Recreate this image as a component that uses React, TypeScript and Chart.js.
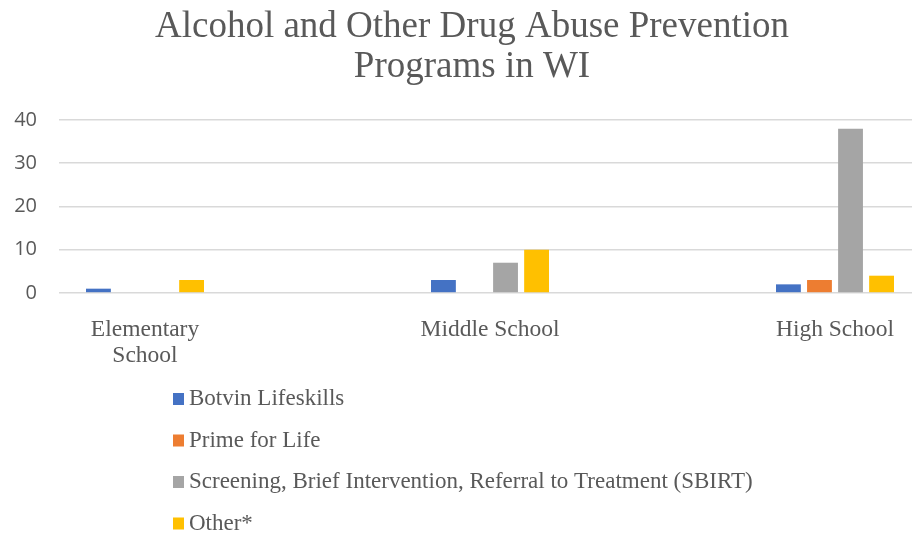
import React, { useEffect, useRef } from 'react';
import { Chart, registerables } from 'chart.js';

Chart.register(...registerables);

const titleLines = ['Alcohol and Other Drug Abuse Prevention', 'Programs in WI'];
const categories: (string | string[])[] = [['Elementary', 'School'], 'Middle School', 'High School'];
const seriesNames = [
  'Botvin Lifeskills',
  'Prime for Life',
  'Screening, Brief Intervention, Referral to Treatment (SBIRT)',
  'Other*',
];
const botvin = [1, 3, 2];
const primeForLife = [0, 0, 3];
const sbirt = [0, 7, 38];
const other = [3, 10, 4];
const yTicks = [0, 10, 20, 30, 40];
const seriesColors = ['#4472C4', '#ED7D31', '#A5A5A5', '#FFC000'];

const TEXT = '#595959';
const SERIF = '"Liberation Serif", "Times New Roman", serif';

const titleAndLegend = {
  id: 'titleAndLegend',
  afterDraw(chart: any) {
    const ctx = chart.ctx;
    ctx.save();
    ctx.fillStyle = TEXT;
    ctx.textBaseline = 'middle';
    ctx.textAlign = 'center';
    ctx.font = `37px ${SERIF}`;
    titleLines.forEach((line, i) => ctx.fillText(line, 472, 27 + i * 40));

    ctx.font = `23px ${SERIF}`;
    ctx.textAlign = 'left';
    chart.data.datasets.forEach((ds: any, i: number) => {
      const cy = 399 + i * 41.5;
      ctx.fillStyle = ds.backgroundColor;
      ctx.fillRect(173, cy - 6, 11, 12);
      ctx.fillStyle = TEXT;
      ctx.fillText(ds.label, 189, cy);
    });
    ctx.restore();
  },
};

export default function App() {
  const ref = useRef<HTMLCanvasElement | null>(null);

  useEffect(() => {
    if (!ref.current) return;
    const seriesValues = [botvin, primeForLife, sbirt, other];
    const chart = new Chart(ref.current, {
      type: 'bar',
      data: {
        datasets: seriesValues.map((vals, s) => ({
          label: seriesNames[s],
          data: vals.map((v, i) => ({ x: i, y: v })),
          backgroundColor: seriesColors[s],
          borderWidth: 0,
          categoryPercentage: 0.36,
          barPercentage: 0.8,
        })),
      },
      options: {
        animation: false,
        responsive: false,
        devicePixelRatio: 1,
        layout: { padding: { left: 0, right: 0, top: 120, bottom: 0 } },
        plugins: {
          legend: { display: false },
          tooltip: { enabled: false },
          title: { display: false },
        },
        scales: {
          x: {
            type: 'linear',
            offset: false,
            min: -0.2493,
            max: 2.2232,
            grid: { display: false, offset: false },
            border: { display: false },
            afterBuildTicks: (axis: any) => {
              axis.ticks = categories.map((_, i) => ({ value: i }));
            },
            afterFit: (axis: any) => {
              axis.height = 245;
            },
            ticks: {
              autoSkip: false,
              maxRotation: 0,
              padding: 16.5,
              color: TEXT,
              font: { family: SERIF, size: 23.5, lineHeight: 1.08 },
              callback: (v: any) => categories[v as number] as any,
            },
          },
          y: {
            min: 0,
            max: 40,
            border: { display: false },
            grid: { color: '#D9D9D9', lineWidth: 1.6, drawTicks: false },
            afterBuildTicks: (axis: any) => {
              axis.ticks = yTicks.map((v) => ({ value: v }));
            },
            afterFit: (axis: any) => {
              axis.width = 59;
            },
            ticks: {
              padding: 22,
              color: TEXT,
              font: { family: '"Open Sans", sans-serif', size: 20 },
            },
          },
        },
      },
      plugins: [titleAndLegend],
    } as any);
    return () => chart.destroy();
  }, []);

  return (
    <div style={{ position: 'fixed', left: 0, top: 0, width: 912, height: 538, background: '#fff' }}>
      <canvas ref={ref} width={912} height={538} />
    </div>
  );
}
